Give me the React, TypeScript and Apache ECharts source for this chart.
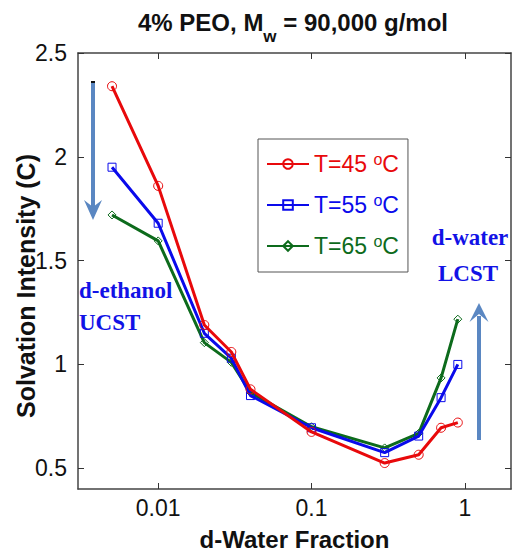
import React, { useEffect, useRef } from "react";
import * as echarts from "echarts";

// d-Water fraction (x, log scale)
const waterFraction = [0.005, 0.01, 0.02, 0.03, 0.04, 0.1, 0.3, 0.5, 0.7, 0.9];
// Solvation intensity C
const t45 = [2.34, 1.86, 1.19, 1.06, 0.88, 0.675, 0.525, 0.565, 0.695, 0.72];
const t55 = [1.95, 1.68, 1.15, 1.03, 0.85, 0.695, 0.575, 0.655, 0.84, 1.0];
const t65 = [1.72, 1.595, 1.105, 1.01, 0.865, 0.7, 0.598, 0.668, 0.935, 1.218];
const seriesNames = ["T=45 °C", "T=55 °C", "T=65 °C"];
const seriesColors = ["#e8090b", "#0a0aeb", "#0d6b1c"];
const seriesSymbols = ["circle", "rect", "diamond"];
const xTicks = [0.01, 0.1, 1];
const yTicks = [0.5, 1, 1.5, 2, 2.5];

const FONT = "Liberation Sans, Arial, Helvetica, sans-serif";
const SERIF = "Liberation Serif, Times New Roman, serif";
const ARROW = "#5a87c2";
const NOTE = "#1212e6";

export default function App() {
  const ref = useRef<HTMLDivElement>(null);
  useEffect(() => {
    if (!ref.current) return;
    const chart = echarts.init(ref.current, null, { renderer: "svg" });
    const allValues = [t45, t55, t65];
    const axisLineStyle = { color: "#444", width: 1.5 };
    const tickStyle = { color: "#333", width: 1 };
    const gridRect = { left: 78, top: 53, right: 2, bottom: 63 };

    const series: any[] = allValues.map((vals, i) => ({
      name: seriesNames[i],
      type: "line",
      xAxisIndex: 0,
      yAxisIndex: 0,
      data: waterFraction.map((x, k) => [x, vals[k]]),
      symbol: seriesSymbols[i],
      symbolSize: i === 0 ? 9 : 8,
      showSymbol: true,
      lineStyle: { color: seriesColors[i], width: 3 },
      itemStyle: {
        color: "rgba(255,255,255,0)",
        borderColor: seriesColors[i],
        borderWidth: 1,
      },
      z: 3 - i,
    }));

    chart.setOption({
      animation: false,
      backgroundColor: "#ffffff",
      grid: { ...gridRect, show: false, containLabel: false, outerBoundsMode: "none" },
      legend: {
        orient: "vertical",
        left: 258,
        top: 139,
        padding: [12, 9, 13, 8],
        itemGap: 15,
        itemWidth: 42,
        itemHeight: 12,
        backgroundColor: "#ffffff",
        borderColor: "#555",
        borderWidth: 1,
        data: seriesNames.map((n, i) => ({
          name: n,
          textStyle: {
            color: seriesColors[i],
            fontFamily: FONT,
            fontSize: 23,
            lineHeight: 26,
            rich: {
              t: { color: seriesColors[i], fontFamily: FONT, fontSize: 23, lineHeight: 26 },
              sup: {
                color: seriesColors[i],
                fontFamily: FONT,
                fontSize: 16,
                lineHeight: 16,
                verticalAlign: "top",
              },
            },
          },
        })),
        formatter: (name: string) => {
          const parts = name.split("°");
          return `{t|${parts[0]}}{sup|o}{t|${parts[1]}}`;
        },
      },
      xAxis: [
        {
          type: "log",
          logBase: 10,
          min: 0.003,
          max: 2,
          position: "bottom",
          name: "d-Water Fraction",
          nameLocation: "middle",
          nameGap: 38,
          nameMoveOverlap: false,
          nameTextStyle: { fontFamily: FONT, fontSize: 24, fontWeight: "bold", color: "#111" },
          axisLine: { show: true, lineStyle: axisLineStyle },
          axisTick: { show: true, inside: true, length: 6, lineStyle: tickStyle, customValues: xTicks },
          axisLabel: {
            customValues: xTicks,
            fontFamily: FONT,
            fontSize: 23,
            color: "#111",
            margin: 7,
            formatter: (v: number) => String(v),
          },
          minorTick: { show: false },
          splitLine: { show: false },
        },
        {
          type: "log",
          logBase: 10,
          min: 0.003,
          max: 2,
          position: "top",
          axisLine: { show: true, lineStyle: axisLineStyle },
          axisTick: { show: true, inside: true, length: 6, lineStyle: tickStyle, customValues: xTicks },
          axisLabel: { show: false },
          splitLine: { show: false },
        },
      ],
      yAxis: [
        {
          type: "value",
          min: 0.4,
          max: 2.5,
          position: "left",
          name: "Solvation Intensity (C)",
          nameLocation: "middle",
          nameGap: 40,
          nameMoveOverlap: false,
          nameTextStyle: {
            fontFamily: FONT,
            fontSize: 25,
            fontWeight: "bold",
            color: "#111",
            padding: [0, 30, 0, 0],
          },
          axisLine: { show: true, lineStyle: axisLineStyle },
          axisTick: { show: true, inside: true, length: 6, lineStyle: tickStyle, customValues: yTicks },
          axisLabel: {
            customValues: yTicks,
            fontFamily: FONT,
            fontSize: 23,
            color: "#111",
            margin: 11,
          },
          splitLine: { show: false },
        },
        {
          type: "value",
          min: 0.4,
          max: 2.5,
          position: "right",
          axisLine: { show: true, lineStyle: axisLineStyle },
          axisTick: { show: true, inside: true, length: 6, lineStyle: tickStyle, customValues: yTicks },
          axisLabel: { show: false },
          splitLine: { show: false },
        },
      ],
      series,
      graphic: [
        {
          type: "text",
          x: 293,
          y: 10,
          style: {
            text: "{a|4% PEO, M}{b|w}{a| = 90,000 g/mol}",
            align: "center",
            verticalAlign: "top",
            fill: "#111",
            rich: {
              a: {
                fontFamily: FONT,
                fontSize: 24,
                fontWeight: "bold",
                lineHeight: 27,
                verticalAlign: "top",
                fill: "#111",
              },
              b: {
                fontFamily: FONT,
                fontSize: 17,
                fontWeight: "bold",
                lineHeight: 17,
                padding: [18, 0, 0, 0],
                verticalAlign: "top",
                fill: "#111",
              },
            },
          },
        },
        // downward arrow (d-ethanol UCST)
        {
          type: "line",
          shape: { x1: 93, y1: 83, x2: 93, y2: 207 },
          style: { stroke: ARROW, lineWidth: 4 },
        },
        {
          type: "polygon",
          shape: { points: [[84, 200], [93, 220], [102, 200], [93, 207]] },
          style: { fill: ARROW },
        },
        {
          type: "rect",
          shape: { x: 91, y: 81, width: 4, height: 2 },
          style: { fill: "#111" },
        },
        // upward arrow (d-water LCST)
        {
          type: "line",
          shape: { x1: 479, y1: 440, x2: 479, y2: 316 },
          style: { stroke: ARROW, lineWidth: 4 },
        },
        {
          type: "polygon",
          shape: { points: [[469.5, 322], [479, 303], [488.5, 322], [479, 314]] },
          style: { fill: ARROW },
        },
        {
          type: "text",
          x: 79,
          y: 290,
          style: {
            text: "d-ethanol",
            fontFamily: SERIF,
            fontSize: 23,
            fontWeight: "bold",
            fill: NOTE,
            verticalAlign: "middle",
            align: "left",
          },
        },
        {
          type: "text",
          x: 79,
          y: 322,
          style: {
            text: "UCST",
            fontFamily: SERIF,
            fontSize: 23,
            fontWeight: "bold",
            fill: NOTE,
            verticalAlign: "middle",
            align: "left",
          },
        },
        {
          type: "text",
          x: 470,
          y: 237,
          style: {
            text: "d-water",
            fontFamily: SERIF,
            fontSize: 23,
            fontWeight: "bold",
            fill: NOTE,
            verticalAlign: "middle",
            align: "center",
          },
        },
        {
          type: "text",
          x: 468,
          y: 273,
          style: {
            text: "LCST",
            fontFamily: SERIF,
            fontSize: 23,
            fontWeight: "bold",
            fill: NOTE,
            verticalAlign: "middle",
            align: "center",
          },
        },
      ],
    });
    return () => chart.dispose();
  }, []);
  return (
    <div
      ref={ref}
      style={{ position: "fixed", left: 0, top: 0, width: 513, height: 552, background: "#fff" }}
    />
  );
}
